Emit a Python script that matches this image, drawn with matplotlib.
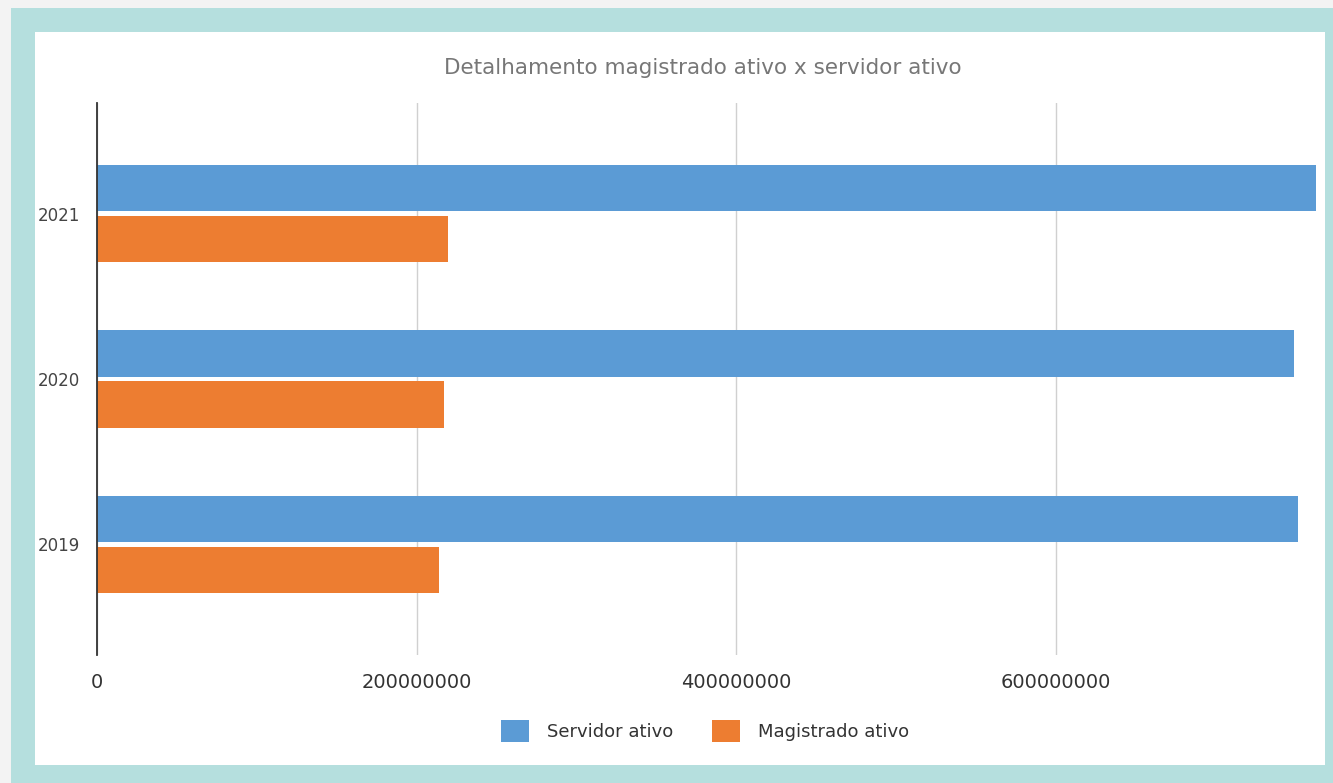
import numpy as np
import matplotlib.pyplot as plt
from matplotlib.patches import Rectangle

# Despesa com pessoal ativo por ano
anos = ['2019', '2020', '2021']
servidor_ativo = [752e6, 749e6, 763e6]
magistrado_ativo = [214e6, 217e6, 220e6]
x_ticks = [0, 200000000, 400000000, 600000000]

azul = '#5b9bd5'
laranja = '#ed7d31'

fig = plt.figure(figsize=(13.33, 7.83), dpi=100)
fig.patch.set_facecolor('#f3f3f3')

# moldura verde-agua e fundo branco
W, H = 1333, 783
fig.patches.append(Rectangle((11 / W, 0), 1 - 11 / W, 1 - 8 / H, transform=fig.transFigure,
                             facecolor='#b5dfde', edgecolor='none', zorder=-2))
fig.patches.append(Rectangle((35 / W, 1 - 765 / H), (1325 - 35) / W, (765 - 32) / H,
                             transform=fig.transFigure, facecolor='white', edgecolor='none', zorder=-1))

ax = fig.add_axes([97 / W, 1 - 655 / H, (1318 - 97) / W, (655 - 103) / H])
ax.set_facecolor('none')

y = np.arange(len(anos))
h = 0.28
ax.barh(y + 0.155, servidor_ativo, height=h, color=azul, label='Servidor ativo', zorder=3)
ax.barh(y - 0.155, magistrado_ativo, height=h, color=laranja, label='Magistrado ativo', zorder=3)

ax.set_xlim(0, 764.3e6)
ax.set_ylim(-0.67, 2.67)
ax.set_yticks(y)
ax.set_yticklabels(anos, fontsize=12, color='#444444')
ax.set_xticks(x_ticks)
ax.set_xticklabels([str(t) for t in x_ticks], fontsize=14, color='#333333')
ax.tick_params(axis='both', length=0)
ax.tick_params(axis='x', pad=13)
ax.tick_params(axis='y', pad=12)

ax.grid(axis='x', color='#d0d0d0', linewidth=1, zorder=0)
for s in ['top', 'right', 'bottom']:
    ax.spines[s].set_visible(False)
ax.spines['left'].set_color('#333333')
ax.spines['left'].set_linewidth(1.3)
ax.spines['left'].set_zorder(4)

fig.text(703 / W, 1 - 68 / H, 'Detalhamento magistrado ativo x servidor ativo',
         ha='center', va='center', fontsize=15.5, color='#777777')

fig.legend(loc='center', bbox_to_anchor=(705 / W, 1 - 731 / H), ncol=2, frameon=False,
           fontsize=13, handlelength=1.55, handleheight=1.5, columnspacing=2.1,
           handletextpad=1.0, labelcolor='#333333')

plt.savefig('out.png', dpi=100, facecolor=fig.get_facecolor())
